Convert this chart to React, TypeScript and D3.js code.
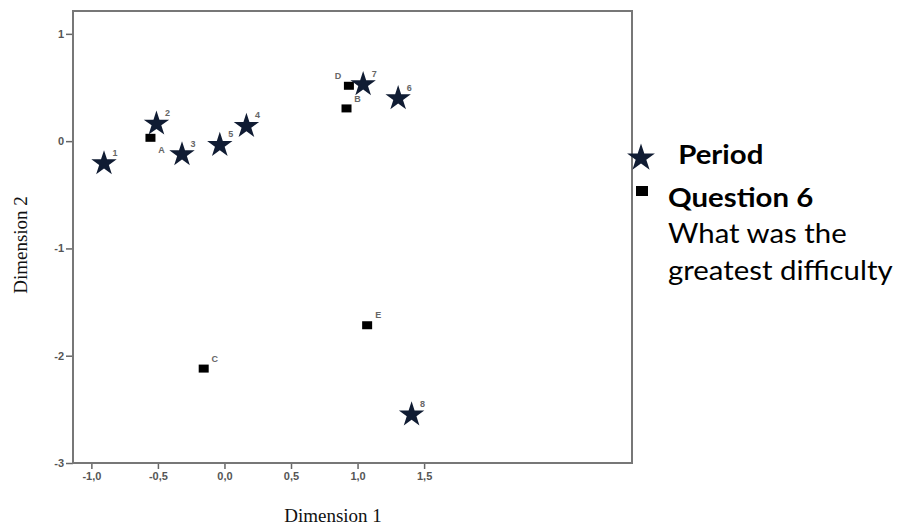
import React, { useEffect, useRef } from 'react';
import * as d3 from 'd3';

// object points (periods) -- stars
const periodLabels = ['1', '2', '3', '4', '5', '6', '7', '8'];
const periodDim1 = [-0.905, -0.511, -0.319, 0.165, -0.035, 1.305, 1.042, 1.406];
const periodDim2 = [-0.199, 0.171, -0.115, 0.149, -0.028, 0.408, 0.538, -2.54];

// category points (answers to question 6) -- squares
const answerLabels = ['A', 'B', 'C', 'D', 'E'];
const answerDim1 = [-0.556, 0.917, -0.156, 0.935, 1.072];
const answerDim2 = [0.031, 0.305, -2.12, 0.516, -1.716];

const xTicks = [-1, -0.5, 0, 0.5, 1, 1.5];
const xTickLabels = ['-1,0', '-0,5', '0,0', '0,5', '1,0', '1,5'];
const yTicks = [1, 0, -1, -2, -3];
const yTickLabels = ['1', '0', '-1', '-2', '-3'];

const legendTitle = 'Period';
const legendLines = ['Question 6', 'What was the', 'greatest difficulty'];

const W = 898, H = 526;

function App() {
  const ref = useRef<SVGSVGElement>(null);

  useEffect(() => {
    const svg = d3.select(ref.current);
    svg.selectAll('*').remove();

    const frame = { left: 73, right: 632, top: 11, bottom: 463 };
    const x = d3.scaleLinear().domain([-1.138, 3.062]).range([frame.left, frame.right]);
    const y = d3.scaleLinear().domain([-3, 1.213]).range([frame.bottom, frame.top]);

    const tickFont = '"Liberation Sans", Arial, sans-serif';

    // x axis
    const xAxis = svg.append('g')
      .attr('transform', `translate(0,${frame.bottom})`)
      .call(d3.axisBottom(x).tickValues(xTicks).tickSize(6).tickPadding(3)
        .tickFormat((d, i) => xTickLabels[i]));
    xAxis.select('.domain').remove();
    xAxis.selectAll('line').attr('stroke', '#666').attr('stroke-width', 1.5);
    xAxis.selectAll('text').attr('font-family', tickFont).attr('font-size', 11)
      .attr('fill', '#555').attr('font-weight', 'bold');

    // y axis
    const yAxis = svg.append('g')
      .attr('transform', `translate(${frame.left},0)`)
      .call(d3.axisLeft(y).tickValues(yTicks).tickSize(7).tickPadding(2)
        .tickFormat((d, i) => yTickLabels[i]));
    yAxis.select('.domain').remove();
    yAxis.selectAll('line').attr('stroke', '#666').attr('stroke-width', 1.5);
    yAxis.selectAll('text').attr('font-family', tickFont).attr('font-size', 11)
      .attr('fill', '#555').attr('font-weight', 'bold');

    // frame
    svg.append('rect')
      .attr('x', frame.left).attr('y', frame.top)
      .attr('width', frame.right - frame.left).attr('height', frame.bottom - frame.top)
      .attr('fill', 'none').attr('stroke', '#777').attr('stroke-width', 2);

    // axis titles
    svg.append('text')
      .text('Dimension 1')
      .attr('x', 333).attr('y', 522)
      .attr('text-anchor', 'middle')
      .attr('font-family', '"Liberation Serif", "Times New Roman", serif')
      .attr('font-size', 19).attr('fill', '#111');
    svg.append('text')
      .text('Dimension 2')
      .attr('transform', 'translate(27,245) rotate(-90)')
      .attr('text-anchor', 'middle')
      .attr('font-family', '"Liberation Serif", "Times New Roman", serif')
      .attr('font-size', 19).attr('fill', '#111');

    const starPath = d3.symbol().type(d3.symbolStar).size(200)();
    const starColor = '#101c33';
    const labelFont = { family: tickFont, size: 9, fill: '#666' };

    // squares
    const sq = svg.selectAll('.answer')
      .data(answerLabels)
      .enter()
      .append('g')
      .attr('class', 'answer');
    sq.append('rect')
      .attr('x', (d, i) => x(answerDim1[i]) - 5)
      .attr('y', (d, i) => y(answerDim2[i]) - 4)
      .attr('width', 10).attr('height', 8)
      .attr('fill', '#000');
    sq.append('text')
      .text(d => d)
      .attr('x', (d, i) => x(answerDim1[i]) + (d === 'D' ? -11 : 11))
      .attr('y', (d, i) => y(answerDim2[i]) + (d === 'A' ? 12 : -10))
      .attr('dy', '0.35em')
      .attr('text-anchor', 'middle')
      .attr('font-family', labelFont.family).attr('font-size', labelFont.size)
      .attr('font-weight', 'bold').attr('fill', labelFont.fill);

    // stars
    const st = svg.selectAll('.period')
      .data(periodLabels)
      .enter()
      .append('g')
      .attr('class', 'period');
    st.append('path')
      .attr('d', starPath)
      .attr('transform', (d, i) => `translate(${x(periodDim1[i])},${y(periodDim2[i]) + 1})`)
      .attr('fill', starColor);
    st.append('text')
      .text(d => d)
      .attr('x', (d, i) => x(periodDim1[i]) + 11)
      .attr('y', (d, i) => y(periodDim2[i]) - 10)
      .attr('dy', '0.35em')
      .attr('text-anchor', 'middle')
      .attr('font-family', labelFont.family).attr('font-size', labelFont.size)
      .attr('font-weight', 'bold').attr('fill', labelFont.fill);

    // legend
    const lg = svg.append('g');
    lg.append('path')
      .attr('d', d3.symbol().type(d3.symbolStar).size(240)())
      .attr('transform', 'translate(641,158)')
      .attr('fill', starColor);
    lg.append('rect')
      .attr('x', 636).attr('y', 186)
      .attr('width', 12).attr('height', 10)
      .attr('fill', '#000');
    const legendFont = 'Lato, "Open Sans", sans-serif';
    // text a bit wider than Lato draws it
    const txt = lg.append('g').attr('transform', 'translate(668,0) scale(1.13,1)');
    txt.append('text')
      .text(legendTitle)
      .attr('x', 9).attr('y', 164)
      .attr('font-family', legendFont).attr('font-size', 26)
      .attr('font-weight', 'bold').attr('fill', '#000');
    txt.selectAll('.ll')
      .data(legendLines)
      .enter()
      .append('text')
      .attr('class', 'll')
      .text(d => d)
      .attr('x', 0)
      .attr('y', (d, i) => 207 + i * 36.5)
      .attr('font-family', legendFont).attr('font-size', 26)
      .attr('font-weight', (d, i) => (i === 0 ? 'bold' : 'normal'))
      .attr('fill', '#000');
  }, []);

  return (
    <svg
      ref={ref}
      width={W}
      height={H}
      style={{ position: 'absolute', left: 0, top: 0, background: '#fff' }}
    />
  );
}

export default App;
